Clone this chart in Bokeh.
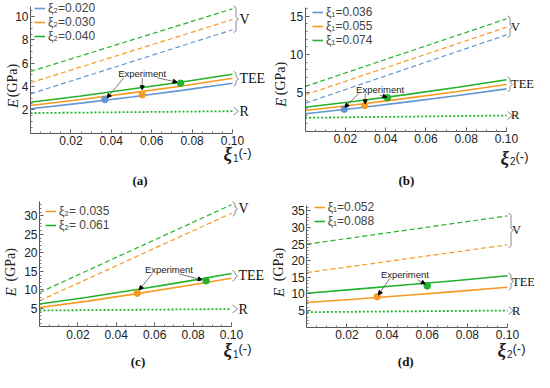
import math
from bokeh.plotting import figure
from bokeh.layouts import gridplot
from bokeh.models import (Label, Arrow, NormalHead, FixedTicker, PrintfTickFormatter,
                          Legend, LegendItem, Range1d, LinearAxis)
from bokeh.embed import file_html
from bokeh.resources import INLINE

BLUE = "#6397D3"
ORANGE = "#F59A23"
GREEN = "#22B22B"

X_TEE = [0.0, 0.025, 0.05, 0.075, 0.10]
X_LIN = [0.0, 0.10]
X_TICKS = [0.02, 0.04, 0.06, 0.08, 0.10]

# ---------------- (a) ----------------
a_labels = ["ξ₂=0.020", "ξ₂=0.030", "ξ₂=0.040"]
a_colors = [BLUE, ORANGE, GREEN]
a_V = [[3.37, 8.87], [4.32, 9.75], [5.29, 10.67]]
a_TEE = [[2.09, 2.57, 3.10, 3.67, 4.28],
         [2.37, 2.88, 3.45, 4.05, 4.71],
         [2.65, 3.18, 3.78, 4.38, 5.05]]
a_R = [1.72, 1.88]
a_exp_x = [0.0368, 0.0553, 0.0743]
a_exp_y = [2.88, 3.29, 4.28]
a_yticks = [2, 4, 6, 8, 10]

# ---------------- (b) ----------------
b_labels = ["ξ₁=0.036", "ξ₁=0.055", "ξ₁=0.074"]
b_colors = [BLUE, ORANGE, GREEN]
b_V = [[3.66, 12.58], [4.75, 13.58], [5.84, 14.67]]
b_TEE = [[2.27, 3.00, 3.80, 4.63, 5.53],
         [2.70, 3.45, 4.28, 5.16, 6.10],
         [3.13, 3.90, 4.78, 5.70, 6.71]]
b_R = [1.75, 2.05]
b_exp_x = [0.0194, 0.0296, 0.0409]
b_exp_y = [2.87, 3.36, 4.36]
b_yticks = [5, 10, 15]

# ---------------- (c) ----------------
c_labels = ["ξ₂= 0.035", "ξ₂= 0.061"]
c_colors = [ORANGE, GREEN]
c_V = [[7.03, 30.7], [9.27, 33.0]]
c_TEE = [[5.20, 6.95, 8.90, 10.95, 13.10],
         [6.16, 8.00, 10.00, 12.15, 14.40]]
c_R = [4.4, 4.8]
c_exp_x = [0.0509, 0.0868]
c_exp_y = [9.08, 12.43]
c_yticks = [5, 10, 15, 20, 25, 30]

# ---------------- (d) ----------------
d_labels = ["ξ₁=0.052", "ξ₁=0.088"]
d_colors = [ORANGE, GREEN]
d_V = [[16.4, 24.8], [24.97, 33.5]]
d_TEE = [[7.40, 8.45, 9.60, 10.75, 12.00],
         [10.20, 11.45, 12.75, 14.05, 15.45]]
d_R = [4.5, 5.0]
d_exp_x = [0.0351, 0.0600]
d_exp_y = [9.13, 12.40]
d_yticks = [5, 10, 15, 20, 25, 30, 35]

SANS = "Liberation Sans"
SERIF = "Liberation Serif"


def make_panel(cfg):
    W, H = cfg["size"]
    ox, oy = cfg["origin"]          # pixel position of data (0, 0) inside the figure
    sx, sy = cfg["scale"]           # pixels per data unit
    x0r, x1r = -ox / sx, (W - ox) / sx
    y0r, y1r = -(H - oy) / sy, oy / sy
    p = figure(width=W, height=H, x_range=Range1d(x0r, x1r), y_range=Range1d(y0r, y1r),
               output_backend="svg", toolbar_location=None,
               x_axis_location=None, y_axis_location=None,
               min_border_left=0, min_border_right=0, min_border_top=0, min_border_bottom=0)
    p.outline_line_color = None
    p.grid.visible = False
    p.background_fill_color = "white"
    p.border_fill_color = "white"

    ytop = min(cfg["ytop"], y1r)
    ystep = cfg["yminor_step"]
    nmin = int(ytop / ystep + 1e-9)
    xaxis = LinearAxis(fixed_location=0,
                       ticker=FixedTicker(ticks=X_TICKS,
                                          minor_ticks=[round(0.005 * i, 4) for i in range(1, 21)]),
                       formatter=PrintfTickFormatter(format="%.2f"))
    yaxis = LinearAxis(fixed_location=0,
                       ticker=FixedTicker(ticks=cfg["yticks"],
                                          minor_ticks=[round(ystep * i, 4) for i in range(1, nmin + 1)]))
    for ax in (xaxis, yaxis):
        ax.major_tick_in = 4
        ax.major_tick_out = 0
        ax.minor_tick_in = 2
        ax.minor_tick_out = 0
        ax.axis_line_color = "#555555"
        ax.major_tick_line_color = "#555555"
        ax.minor_tick_line_color = "#777777"
        ax.major_label_text_font = SANS
        ax.major_label_text_font_size = "12px"
        ax.major_label_text_color = "#222222"
    xaxis.major_label_standoff = 3
    yaxis.major_label_standoff = 2
    xaxis.bounds = (0, 0.10)
    yaxis.bounds = (0, ytop)
    p.add_layout(xaxis, "below")
    p.add_layout(yaxis, "left")

    colors = cfg["colors"]
    # Voigt bound (dashed)
    for v, c in zip(cfg["V"], colors):
        p.line(X_LIN, v, line_color=c, line_width=1.2, line_dash="5 3")
    # Reuss bound (dotted)
    p.line(X_LIN, cfg["R"], line_color=GREEN, line_width=1.8, line_dash="2 2")
    # TEE (solid)
    items = []
    for t, c, lab in zip(cfg["TEE"], colors, cfg["labels"]):
        r = p.line(X_TEE, t, line_color=c, line_width=1.6)
        items.append(LegendItem(label=lab, renderers=[r]))
    # experiment points
    p.scatter(cfg["exp_x"], cfg["exp_y"], size=6.5, color=colors)

    # legend
    n = len(items)
    row = 14
    lx, ltop = cfg["legend"]
    leg = Legend(items=items, location=(lx, H - ltop - n * row),
                 label_text_font=SANS, label_text_font_size="12px",
                 glyph_width=11, glyph_height=row, label_height=row, label_standoff=3,
                 spacing=0, padding=0, margin=0, border_line_alpha=0,
                 background_fill_alpha=0)
    p.add_layout(leg)

    # brackets + labels V / TEE / R
    bfs = cfg["bfont"]
    boff = cfg["boff"]

    def bracket(top, bot, text):
        x0 = 0.10 + 1.0 / sx
        d = 2.5 / sx
        e = 2.0 / sy
        mid = (top + bot) / 2
        p.line([x0, x0 + d, x0 + d, x0 + 2 * d, x0 + d, x0 + d, x0],
               [top, top - e, mid + e, mid, mid - e, bot + e, bot],
               line_color="#8a8a8a", line_width=1)
        p.add_layout(Label(x=0.10, y=mid, x_offset=boff, y_offset=0, text=text,
                           text_font=SERIF, text_font_size=bfs, text_baseline="middle",
                           text_align="left", text_color="#111111"))

    vends = [v[-1] for v in cfg["V"]]
    tends = [t[-1] for t in cfg["TEE"]]
    pad = 3.0 / sy
    bracket(max(vends) + pad, min(vends) - pad, "V")
    bracket(max(tends) + pad, min(tends) - pad, "TEE")
    bracket(cfg["R"][-1] + 4.0 / sy, cfg["R"][-1] - 4.0 / sy, "R")

    # experiment annotation
    tx, ty = cfg["exp_text"]
    p.add_layout(Label(x=tx, y=ty, text="Experiment", text_font=SANS, text_font_size="9.5px",
                       text_align="center", text_baseline="middle", text_color="#222222"))
    for (ax0, ay0, ax1, ay1) in cfg["arrows"]:
        p.add_layout(Arrow(end=NormalHead(size=4, fill_color="black", line_color="black"),
                           x_start=ax0, y_start=ay0, x_end=ax1, y_end=ay1,
                           line_color="#555555", line_width=0.8))

    # y axis label
    ylx, ey, gy = cfg["ylabel"]
    p.add_layout(Label(x=0, y=0, x_offset=ylx, y_offset=ey, text="E", angle=math.pi / 2,
                       text_font=SERIF, text_font_style="italic", text_font_size="15px",
                       text_align="center", text_baseline="middle", text_color="#222222"))
    p.add_layout(Label(x=0, y=0, x_offset=ylx, y_offset=gy, text="(GPa)", angle=math.pi / 2,
                       text_font=SERIF, text_font_size="14px",
                       text_align="center", text_baseline="middle", text_color="#222222"))

    # x axis label
    xs0, xy = cfg["xlabel"]
    p.add_layout(Label(x=0.10, y=0, x_offset=xs0, y_offset=xy, text="ξ",
                       text_font=SERIF, text_font_style="bold italic", text_font_size="19px",
                       text_align="left", text_baseline="middle", text_color="#222222"))
    p.add_layout(Label(x=0.10, y=0, x_offset=xs0 + 9.5, y_offset=xy - 4, text=cfg["sub"],
                       text_font=SANS, text_font_size="10px",
                       text_align="left", text_baseline="middle", text_color="#222222"))
    p.add_layout(Label(x=0.10, y=0, x_offset=xs0 + 15, y_offset=xy + 1, text="(-)",
                       text_font=SANS, text_font_size="13px",
                       text_align="left", text_baseline="middle", text_color="#222222"))

    # caption
    cx, cy = cfg["caption_pos"]
    p.add_layout(Label(x=cx, y=0, y_offset=cy, text=cfg["caption"],
                       text_font=SERIF, text_font_style="bold", text_font_size="13px",
                       text_align="center", text_baseline="middle", text_color="#111111"))
    return p


pa = make_panel(dict(size=(267, 188), origin=(30, 132.6), scale=(2020, 11.65), ytop=10.9,
                     yticks=a_yticks, yminor_step=0.5, colors=a_colors, labels=a_labels,
                     V=a_V, TEE=a_TEE, R=a_R, exp_x=a_exp_x, exp_y=a_exp_y,
                     legend=(34, 1), exp_text=(0.0553, 5.09), bfont="14px", boff=7,
                     arrows=[(0.0462, 4.75, 0.0380, 3.03), (0.0553, 4.75, 0.0553, 3.72),
                             (0.0627, 4.75, 0.0726, 4.37)],
                     ylabel=(-18, 29.6, 52.6), xlabel=(-9, -20.7), sub="1",
                     caption="(a)", caption_pos=(0.0542, -47.4)))

pb = make_panel(dict(size=(267, 188), origin=(37.7, 130.7), scale=(2013, 7.66), ytop=16.2,
                     yticks=b_yticks, yminor_step=1, colors=b_colors, labels=b_labels,
                     V=b_V, TEE=b_TEE, R=b_R, exp_x=b_exp_x, exp_y=b_exp_y,
                     legend=(45, 5), exp_text=(0.0372, 5.40), bfont="12.5px", boff=4.5,
                     arrows=[(0.0268, 4.96, 0.0197, 3.13), (0.0298, 4.96, 0.0298, 3.58),
                             (0.0371, 4.70, 0.0406, 4.44)],
                     ylabel=(-24.7, 28.7, 52.7), xlabel=(-6, -26), sub="2",
                     caption="(b)", caption_pos=(0.0503, -49.3)))

pc = make_panel(dict(size=(267, 184), origin=(39, 138.3), scale=(1920, 3.7), ytop=33.9,
                     yticks=c_yticks, yminor_step=1, colors=c_colors, labels=c_labels,
                     V=c_V, TEE=c_TEE, R=c_R, exp_x=c_exp_x, exp_y=c_exp_y,
                     legend=(45, 16), exp_text=(0.0674, 15.4), bfont="14px", boff=7,
                     arrows=[(0.0587, 14.3, 0.0520, 10.0), (0.0726, 14.3, 0.0847, 12.7)],
                     ylabel=(-29, 35, 62), xlabel=(-8, -23), sub="1",
                     caption="(c)", caption_pos=(0.0513, -34.7)))

pd = make_panel(dict(size=(267, 184), origin=(39.3, 138.6), scale=(2007, 3.32), ytop=36.6,
                     yticks=d_yticks, yminor_step=1, colors=d_colors, labels=d_labels,
                     V=d_V, TEE=d_TEE, R=d_R, exp_x=d_exp_x, exp_y=d_exp_y,
                     legend=(46.7, 11.5), exp_text=(0.0489, 15.9), bfont="12.5px", boff=4.5,
                     arrows=[(0.0414, 14.7, 0.0357, 9.7), (0.0552, 14.25, 0.0590, 13.0)],
                     ylabel=(-28, 34.6, 62.6), xlabel=(-10, -22.7), sub="2",
                     caption="(d)", caption_pos=(0.0493, -34.4)))

grid = gridplot([[pa, pb], [pc, pd]], toolbar_location=None)

open("out.html", "w").write(file_html(grid, INLINE))
